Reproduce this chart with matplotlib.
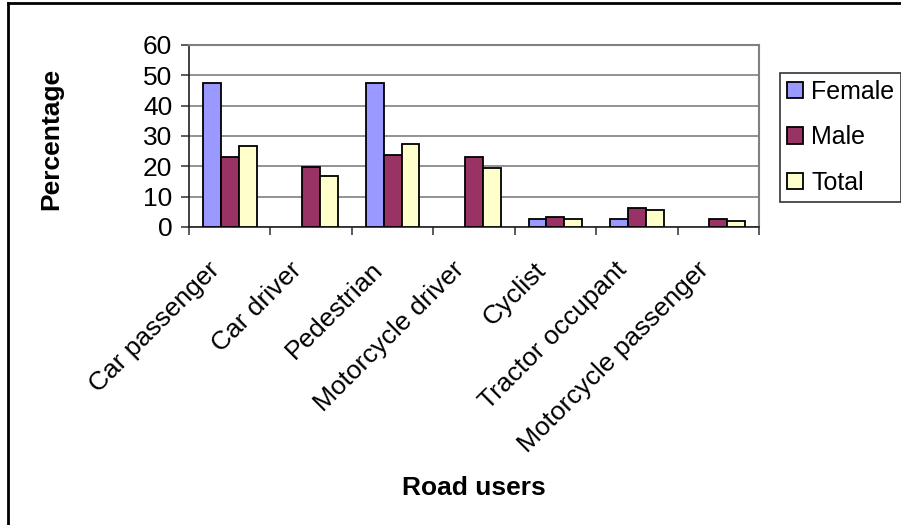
import numpy as np
import matplotlib.pyplot as plt
from matplotlib.lines import Line2D

categories = ["Car passenger", "Car driver", "Pedestrian", "Motorcycle driver",
              "Cyclist", "Tractor occupant", "Motorcycle passenger"]
female = [47.6, 0, 47.6, 0, 2.6, 2.6, 0]
male = [23.0, 19.9, 23.7, 23.0, 3.3, 6.2, 2.6]
total = [26.7, 16.9, 27.4, 19.3, 2.6, 5.6, 2.0]
series_names = ["Female", "Male", "Total"]
colors = ["#9999FF", "#993366", "#FFFFCC"]
yticks = [0, 10, 20, 30, 40, 50, 60]

plt.rcParams["font.family"] = ["Liberation Sans", "DejaVu Sans"]
FS = 19

fig = plt.figure(figsize=(9.01, 5.25), dpi=100)
ax = fig.add_axes([189 / 901, 1 - 227 / 525, 570 / 901, 182 / 525])

x = np.arange(len(categories))
w = 0.22
for i, (vals, name, c) in enumerate(zip([female, male, total], series_names, colors)):
    vals = np.array(vals, dtype=float)
    lw = np.where(vals > 0, 1.3, 0.0)
    ax.bar(x + (i - 1) * w, vals, width=w, color=c, edgecolor="black",
           linewidth=lw, label=name, zorder=3)

ax.set_xlim(-0.5, len(categories) - 0.5)
ax.set_ylim(0, 60)
ax.set_yticks(yticks)
ax.set_yticklabels([str(t) for t in yticks], fontsize=FS)
ax.yaxis.grid(True, color="#808080", linewidth=1.2, zorder=0)

# category boundaries get the visible ticks; labels sit a bit left of centre
ax.set_xticks(np.arange(len(categories) + 1) - 0.5, minor=True)
ax.set_xticks(x - 0.27)
ax.set_xticklabels(categories, rotation=45, ha="right", va="top",
                   rotation_mode="anchor", fontsize=FS)
ax.tick_params(axis="x", which="major", length=0, pad=22)
ax.tick_params(axis="x", which="minor", length=6, width=1.2, color="#404040")
ax.tick_params(axis="y", length=6, width=1.2, color="#404040", pad=6)

for side in ["top", "right"]:
    ax.spines[side].set_color("#808080")
    ax.spines[side].set_linewidth(1.5)
for side in ["left", "bottom"]:
    ax.spines[side].set_color("#202020")
    ax.spines[side].set_linewidth(1.2)

fig.text(51 / 901, 1 - 139 / 525, "Percentage", fontsize=FS, fontweight="bold",
         rotation=90, ha="center", va="center")
fig.text(474 / 901, 1 - 488 / 525, "Road users", fontsize=FS, fontweight="bold",
         ha="center", va="center")

leg = fig.legend(loc="upper left", bbox_to_anchor=(780 / 901, 1 - 73 / 525),
                 fontsize=18, frameon=True, fancybox=False, handlelength=0.62,
                 handleheight=0.62, handletextpad=0.35, borderpad=0.28,
                 labelspacing=0.85, borderaxespad=0)
leg.get_frame().set_edgecolor("black")
leg.get_frame().set_linewidth(1.2)

# outer chart border (left and top only visible)
fig.add_artist(Line2D([8 / 901, 8 / 901], [0, 1 - 3 / 525], color="black",
                      linewidth=2, transform=fig.transFigure))
fig.add_artist(Line2D([8 / 901, 1], [1 - 3 / 525, 1 - 3 / 525], color="black",
                      linewidth=2, transform=fig.transFigure))

fig.savefig("out.png", dpi=100)
